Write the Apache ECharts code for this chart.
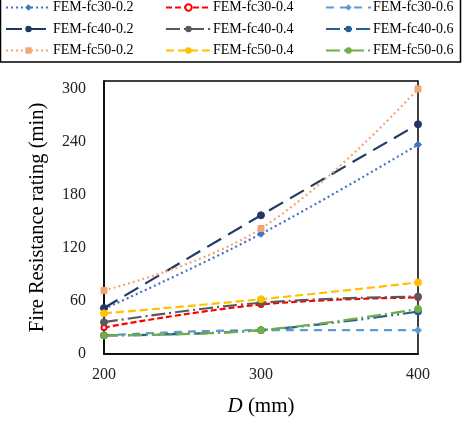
<!DOCTYPE html>
<html>
<head>
<meta charset="utf-8">
<script src="https://cdn.jsdelivr.net/npm/echarts@6/dist/echarts.min.js"></script>
<style>
  html, body { margin: 0; padding: 0; background: #fff; }
  #chart { width: 462px; height: 422px; }
</style>
</head>
<body>
<div id="chart"></div>
<script>
// column depth D (mm)
const depths = [200, 300, 400]
const yTicks = [0, 60, 120, 180, 240, 300]

// fire resistance rating (min) per model
const fc30_02 = [51, 136, 237]
const fc30_04 = [30, 56, 64]
const fc30_06 = [21, 27, 27]
const fc40_02 = [52, 157, 260]
const fc40_04 = [36, 58, 65]
const fc40_06 = [21, 27, 48]
const fc50_02 = [72, 142, 300]
const fc50_04 = [46, 62, 81]
const fc50_06 = [21, 27, 51]

const serif = 'Liberation Serif'

function mk (name, values, color, dash, symbol, size) {
  return {
    name: name,
    type: 'line',
    smooth: 0.4,
    data: depths.map((d, i) => [d, values[i]]),
    symbol: symbol,
    symbolSize: size,
    lineStyle: { color: color, width: 2.2, type: dash },
    itemStyle: { color: color, borderColor: color }
  }
}

const series = [
  mk('FEM-fc30-0.2', fc30_02, '#4472C4', [2, 3], 'diamond', 7),
  mk('FEM-fc30-0.4', fc30_04, '#FF0000', [6, 3], 'emptyCircle', 5),
  mk('FEM-fc30-0.6', fc30_06, '#5B9BD5', [8, 6], 'diamond', 7),
  mk('FEM-fc40-0.2', fc40_02, '#203864', [16, 8], 'circle', 7),
  mk('FEM-fc40-0.4', fc40_04, '#595959', [14, 4, 2, 4], 'circle', 7),
  mk('FEM-fc40-0.6', fc40_06, '#255E91', [14, 4, 2, 4, 2, 4], 'circle', 7),
  mk('FEM-fc50-0.2', fc50_02, '#F4A672', [2, 3], 'rect', 6),
  mk('FEM-fc50-0.4', fc50_04, '#FFC000', [8, 4], 'circle', 7),
  mk('FEM-fc50-0.6', fc50_06, '#70AD47', [14, 4, 2, 4], 'circle', 7)
]

// 图例：三列
const legendCol = (left, names) => ({
  orient: 'vertical',
  left: left,
  top: 0,
  itemWidth: 45,
  itemHeight: 8,
  itemGap: 6.5,
  padding: 0,
  data: names,
  textStyle: { fontFamily: serif, fontSize: 14, color: '#000', lineHeight: 15, padding: [0, 0, 0, -3] }
})

const option = {
  animation: false,
  backgroundColor: '#fff',
  legend: [
    legendCol(5, ['FEM-fc30-0.2', 'FEM-fc40-0.2', 'FEM-fc50-0.2']),
    legendCol(165, ['FEM-fc30-0.4', 'FEM-fc40-0.4', 'FEM-fc50-0.4']),
    legendCol(325, ['FEM-fc30-0.6', 'FEM-fc40-0.6', 'FEM-fc50-0.6'])
  ],
  graphic: [{
    type: 'rect',
    shape: { x: 0.5, y: -2, width: 460, height: 64 },
    style: { fill: 'none', stroke: '#000', lineWidth: 1.5 }
  }],
  grid: {
    left: 104, top: 81, width: 314, height: 274,
    show: true, borderColor: '#000', borderWidth: 1.5
  },
  xAxis: {
    type: 'value',
    min: 200, max: 400, interval: 100,
    name: '{i|D} (mm)',
    nameLocation: 'middle',
    nameGap: 42,
    nameTextStyle: {
      fontFamily: serif, fontSize: 21, color: '#000',
      rich: { i: { fontFamily: serif, fontSize: 21, fontStyle: 'italic', color: '#000' } }
    },
    axisLine: { lineStyle: { color: '#000', width: 1.5 } },
    axisTick: { show: false },
    splitLine: { show: false },
    axisLabel: { fontFamily: serif, fontSize: 16, color: '#222', margin: 13 }
  },
  yAxis: {
    type: 'value',
    min: 0, max: 309, interval: 60,
    name: 'Fire Resistance rating (min)',
    nameLocation: 'middle',
    nameGap: 56,
    nameTextStyle: { fontFamily: serif, fontSize: 20.5, color: '#000' },
    axisLine: { show: true, lineStyle: { color: '#000', width: 1.5 } },
    axisTick: { show: false },
    splitLine: { show: false },
    axisLabel: {
      fontFamily: serif, fontSize: 16, color: '#222', margin: 18,
      showMaxLabel: false,
      formatter: v => (yTicks.includes(v) ? String(v) : '')
    }
  },
  series: series
}

const chart = echarts.init(document.getElementById('chart'))
chart.setOption(option)
</script>
</body>
</html>
